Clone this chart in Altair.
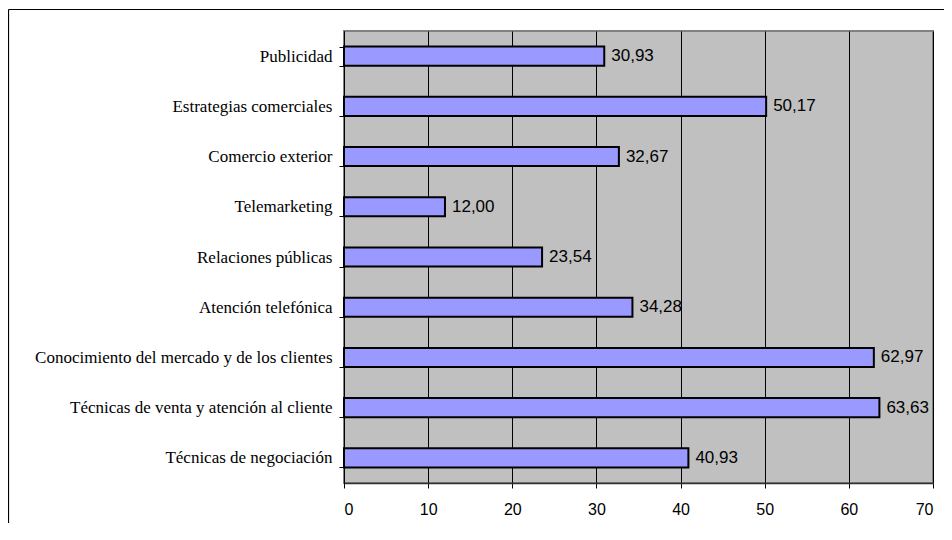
import altair as alt
import pandas as pd

categories = [
    "Publicidad",
    "Estrategias comerciales",
    "Comercio exterior",
    "Telemarketing",
    "Relaciones públicas",
    "Atención telefónica",
    "Conocimiento del mercado y de los clientes",
    "Técnicas de venta y atención al cliente",
    "Técnicas de negociación",
]
values = [30.93, 50.17, 32.67, 12.00, 23.54, 34.28, 62.97, 63.63, 40.93]
x_ticks = [0, 10, 20, 30, 40, 50, 60, 70]

df = pd.DataFrame({
    "cat": categories,
    "val": values,
    "label": [f"{v:.2f}".replace(".", ",") for v in values],
})

y_enc = alt.Y(
    "cat:N",
    sort=categories,
    title=None,
    scale=alt.Scale(paddingInner=0.62, paddingOuter=0.31),
    axis=alt.Axis(
        labelFont="Liberation Serif", labelFontSize=17, labelColor="black",
        labelPadding=7, tickSize=5, tickColor="black", tickBand="extent",
        domainColor="black", grid=False, labelLimit=400,
    ),
)
x_enc = alt.X(
    "val:Q",
    title=None,
    scale=alt.Scale(domain=[0, 70], nice=False),
    axis=alt.Axis(
        values=x_ticks, labelFont="Liberation Sans", labelFontSize=16,
        labelColor="black", labelPadding=13, tickSize=5, tickColor="black",
        domainColor="#303030", domainWidth=1.5, grid=True, gridColor="black",
        gridWidth=1, gridOpacity=1, format="d",
    ),
)

one = pd.DataFrame({"a": [0]})
top_line = alt.Chart(one).mark_rule(color="black", strokeWidth=1.2).encode(
    x=alt.value(-335.5), x2=alt.value(600), y=alt.value(-21.5)
)
left_line = alt.Chart(one).mark_rule(color="black", strokeWidth=1.2).encode(
    x=alt.value(-335.5), y=alt.value(-21.5), y2=alt.value(497)
)

bars = alt.Chart(df).mark_bar(
    color="#9999FF", stroke="black", strokeWidth=2
).encode(x=x_enc, y=y_enc)

text = alt.Chart(df).mark_text(
    align="left", baseline="middle", dx=7, font="Liberation Sans",
    fontSize=17, color="black"
).encode(x="val:Q", y=alt.Y("cat:N", sort=categories), text="label:N")

chart = alt.layer(top_line, left_line, bars, text).properties(
    width=589, height=452,
    autosize=alt.AutoSizeParams(type="none"),
    padding={"left": 336, "top": 23, "right": 11, "bottom": 40},
    background="white",
).configure_view(
    fill="#C0C0C0", stroke="#808080", strokeWidth=2
)

chart.save("out.html", embed_options={"renderer": "svg", "actions": False})
